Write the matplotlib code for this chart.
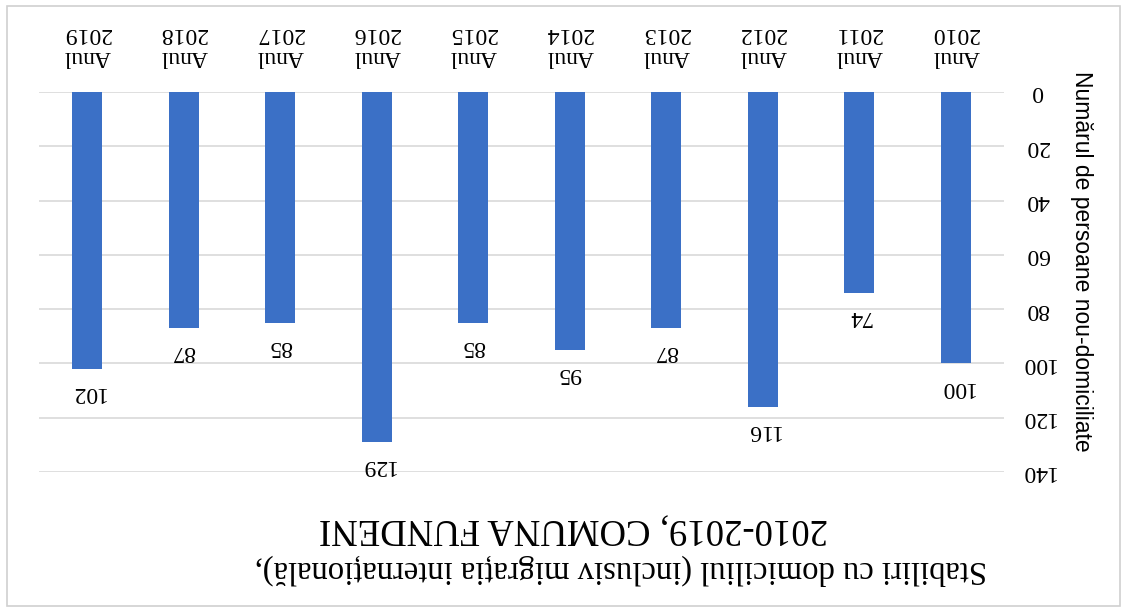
import matplotlib
matplotlib.use("Agg")
import matplotlib.pyplot as plt
from matplotlib.patches import Rectangle

# date (graficul din scan este intors cu 180 de grade)
ani = ["2010", "2011", "2012", "2013", "2014", "2015", "2016", "2017", "2018", "2019"]
valori = [100, 74, 116, 87, 95, 85, 129, 85, 87, 102]
etichete = ["Anul\n" + a for a in ani]
yticks = [0, 20, 40, 60, 80, 100, 120, 140]
titlu1 = "Stabiliri cu domiciliul (inclusiv migrația internațională),"
titlu2 = "2010-2019, COMUNA FUNDENI"
ylabel = "Numărul de persoane nou-domiciliate"

serif = ["Liberation Serif", "DejaVu Serif"]
sans = ["Liberation Sans", "DejaVu Sans"]

W, H = 1128, 612
fig = plt.figure(figsize=(W / 100, H / 100), dpi=100)
ax = fig.add_axes([39 / W, 1 - 472 / H, 965 / W, 380 / H])

x = list(range(len(ani)))
ax.bar(x, valori, width=0.31, color="#3b70c6", zorder=3)

ax.set_xlim(9.5, -0.5)
ax.set_ylim(140, 0)

ax.set_yticks(yticks)
ax.yaxis.tick_right()
ax.set_yticklabels([str(v) for v in yticks], rotation=180, fontfamily=serif,
                   fontsize=17, va="center", ha="center")
ax.tick_params(axis="y", length=0, pad=24)

ax.set_xticks(x)
ax.xaxis.tick_top()
ax.set_xticklabels(etichete, rotation=180, fontfamily=serif, fontsize=17,
                   ha="center", va="center", linespacing=1.15)
ax.tick_params(axis="x", length=0, pad=34)

ax.grid(axis="y", color="#d9d9d9", linewidth=1.2, zorder=0)
for s in ax.spines.values():
    s.set_visible(False)

for xi, v in zip(x, valori):
    ax.annotate(str(v), (xi, v), xytext=(0, -17), textcoords="offset points",
                rotation=180, ha="center", va="center", fontfamily=serif, fontsize=17)

fig.text(1082 / W, 1 - 261 / H, ylabel, rotation=270, ha="center", va="center",
         fontfamily=sans, fontsize=16.5)

fig.text(621 / W, 1 - 570 / H, titlu1, rotation=180, ha="center", va="center",
         fontfamily=serif, fontsize=23.5)
fig.text(573 / W, 1 - 529 / H, titlu2, rotation=180, ha="center", va="center",
         fontfamily=serif, fontsize=26.5)

fig.patches.append(Rectangle((7 / W, 6 / H), 1113 / W, 600 / H,
                             transform=fig.transFigure, fill=False,
                             edgecolor="#d0d0d0", linewidth=1.2))

fig.savefig("out.png", dpi=100)
